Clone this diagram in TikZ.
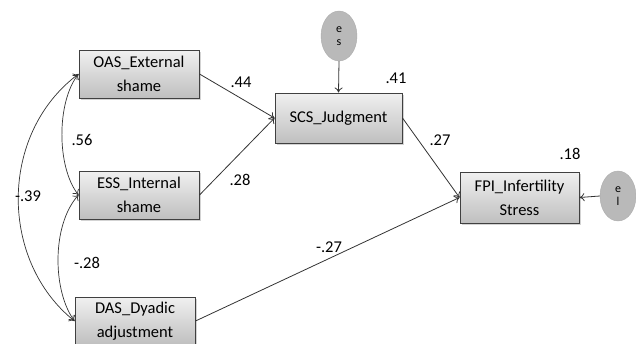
\documentclass[tikz,border=0pt]{standalone}
\usepackage{fontspec}
\setmainfont{Carlito}
\usetikzlibrary{shadows,shapes.geometric,arrows.meta}

\tikzset{
  var/.style={draw=black!75, line width=1pt, top color=gray!12, bottom color=gray!50,
    drop shadow={shadow xshift=1.5pt,shadow yshift=-1.5pt,opacity=.35},
    minimum width=120pt, minimum height=48pt, align=center, inner sep=1pt,
    font=\fontsize{16.5}{24}\selectfont},
  err/.style={ellipse, draw=gray!65, fill=gray!55, minimum width=36pt, minimum height=50pt,
    inner sep=0pt, align=center, font=\fontsize{12}{13}\selectfont},
  coef/.style={font=\fontsize{16.5}{18}\selectfont},
  path/.style={draw=black!80, line width=.8pt, -{To[length=5pt,width=8pt]}},
  cov/.style={draw=black!80, line width=.7pt, {To[length=5pt,width=8pt]}-{To[length=5pt,width=8pt]}}
}

\begin{document}
\begin{tikzpicture}[x=1pt,y=-1pt]
        \useasboundingbox (0,0) rectangle (636,343);
        % observed variables
        \node[var] (oas) at (139,74) {OAS\_External\\shame};
        \node[var] (ess) at (139,195) {ESS\_Internal\\shame};
        \node[var] (das) at (135,321) {DAS\_Dyadic\\adjustment};
        \node[var, minimum width=127pt, minimum height=50pt] (scs) at (338.5,118) {SCS\_Judgment};
        \node[var, minimum width=119pt, minimum height=51pt] (fpi) at (519.5,197.5) {FPI\_Infertility\\Stress};
        % errors
        \node[err] (es) at (339,36) {e\\s};
        \node[err] (el) at (618,196) {e\\l};
        % paths
        \draw[path] (oas.east) -- (scs.west);
        \draw[path] (ess.east) -- (scs.west);
        \draw[path] (scs.east) -- (fpi.west);
        \draw[path] (das.east) -- (fpi.west);
        \draw[path] (es.south) -- (scs.north);
        \draw[path] (el.west) -- (fpi.east);
        % covariances
        \draw[cov] (oas.west) .. controls +(-22,28) and +(-22,-28) .. (ess.west);
        \draw[cov] (ess.west) .. controls +(-27,30) and +(-22,-30) .. (das.west);
        \draw[cov] (oas.west) .. controls +(-80,60) and +(-75,-60) .. (das.west);
        % coefficients
        \node[coef] (c44) at (241,82) {.44};
        \node[coef] (c28) at (240,180) {.28};
        \node[coef] (c56) at (82,140) {.56};
        \node[coef] (c39) at (28,196) {-.39};
        \node[coef] (c28b) at (87,263) {-.28};
        \node[coef] (c41) at (396,78) {.41};
        \node[coef] (c27) at (440,140) {.27};
        \node[coef] (c18) at (570,154) {.18};
        \node[coef] (c27b) at (329,247) {-.27};
    \end{tikzpicture}
\end{document}
